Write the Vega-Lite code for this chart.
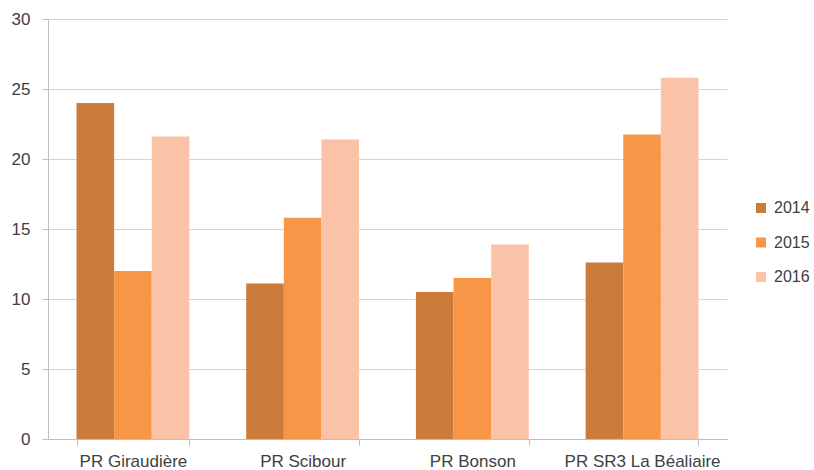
{
  "$schema": "https://vega.github.io/schema/vega-lite/v6.json",
  "width": 679,
  "height": 420,
  "autosize": {"type": "none"},
  "padding": {"left": 48, "top": 19, "right": 87, "bottom": 31},
  "background": "white",
  "config": {
    "view": {"stroke": null},
    "font": "Liberation Sans"
  },
  "data": {
    "values": [
      {"site": "PR Giraudière", "year": "2014", "value": 24.0},
      {"site": "PR Giraudière", "year": "2015", "value": 12.0},
      {"site": "PR Giraudière", "year": "2016", "value": 21.6},
      {"site": "PR Scibour", "year": "2014", "value": 11.1},
      {"site": "PR Scibour", "year": "2015", "value": 15.8},
      {"site": "PR Scibour", "year": "2016", "value": 21.4},
      {"site": "PR Bonson", "year": "2014", "value": 10.5},
      {"site": "PR Bonson", "year": "2015", "value": 11.5},
      {"site": "PR Bonson", "year": "2016", "value": 13.9},
      {"site": "PR SR3 La Béaliaire", "year": "2014", "value": 12.6},
      {"site": "PR SR3 La Béaliaire", "year": "2015", "value": 21.75},
      {"site": "PR SR3 La Béaliaire", "year": "2016", "value": 25.8}
    ]
  },
  "mark": {"type": "bar"},
  "encoding": {
    "x": {
      "field": "site",
      "type": "nominal",
      "sort": null,
      "scale": {"paddingInner": 0.335, "paddingOuter": 0.168},
      "axis": {
        "title": null,
        "labelAngle": 0,
        "tickBand": "extent",
        "tickSize": 6,
        "tickColor": "#bfbfbf",
        "domainColor": "#bfbfbf",
        "labelColor": "#404040",
        "labelFontSize": 17,
        "labelPadding": 8,
        "grid": false
      }
    },
    "xOffset": {"field": "year", "type": "nominal", "scale": {"paddingInner": 0, "paddingOuter": 0}},
    "y": {
      "field": "value",
      "type": "quantitative",
      "scale": {"domain": [0, 30], "nice": false},
      "axis": {
        "title": null,
        "values": [0, 5, 10, 15, 20, 25, 30],
        "tickSize": 6,
        "tickColor": "#bfbfbf",
        "domainColor": "#bfbfbf",
        "gridColor": "#d4d4d4",
        "labelColor": "#404040",
        "labelFontSize": 17,
        "labelPadding": 12
      }
    },
    "color": {
      "field": "year",
      "type": "nominal",
      "scale": {"domain": ["2014", "2015", "2016"], "range": ["#CB7B3A", "#F79646", "#FAC2A6"]},
      "legend": {
        "title": null,
        "orient": "none",
        "legendX": 705,
        "legendY": 181,
        "symbolType": "square",
        "symbolSize": 100,
        "symbolStrokeWidth": 0,
        "labelFontSize": 16,
        "labelColor": "#404040",
        "rowPadding": 18.5,
        "labelOffset": 5
      }
    }
  }
}
